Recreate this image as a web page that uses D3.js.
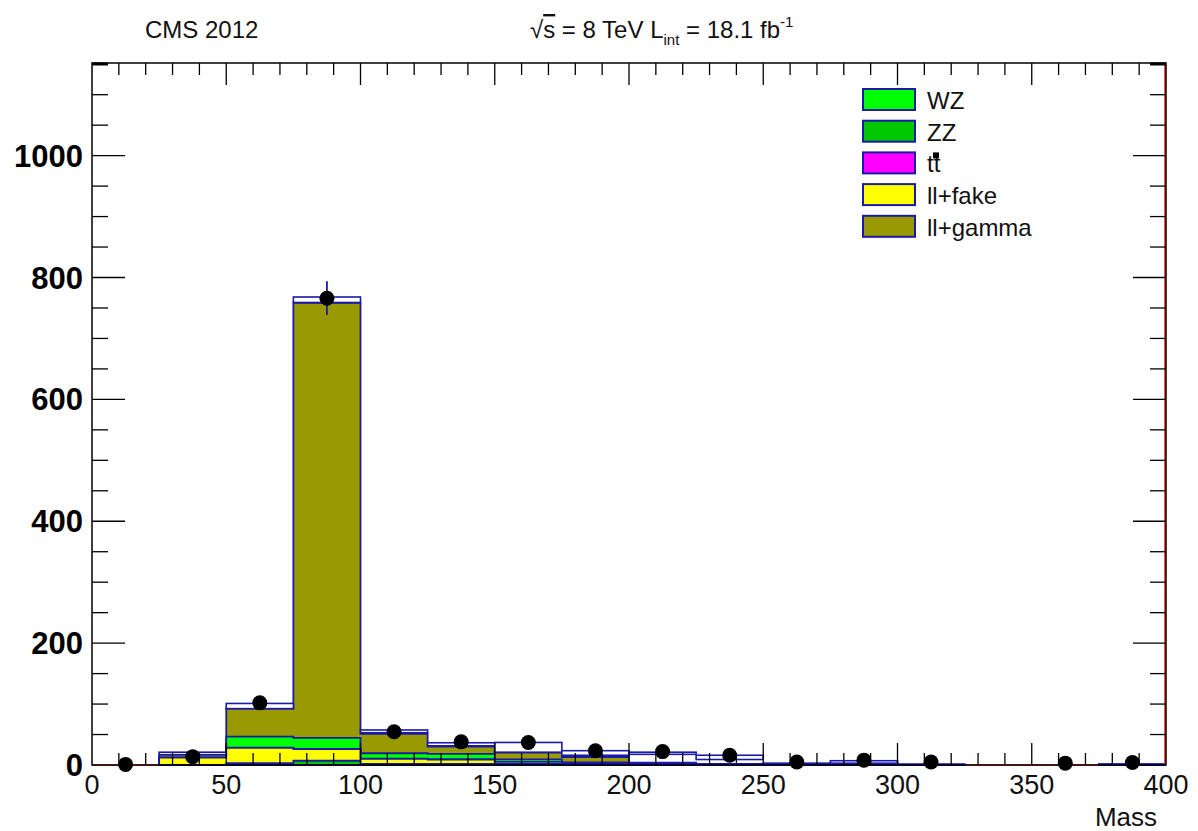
<!DOCTYPE html>
<html>
<head>
<meta charset="utf-8">
<script src="https://cdn.jsdelivr.net/npm/d3@7"></script>
<style>
  html, body { margin: 0; padding: 0; background: #fff; }
  svg { display: block; font-family: "Liberation Sans", Arial, Helvetica, sans-serif; }
</style>
</head>
<body>
<svg id="chart" width="1198" height="831"></svg>
<script>
// ---------------- data ----------------
const binEdges = [0, 25, 50, 75, 100, 125, 150, 175, 200, 225, 250, 275, 300, 325, 350, 375, 400];
const seriesNames = ["WZ", "ZZ", "tt", "ll+fake", "ll+gamma"];
// stack order bottom -> top
const ZZ    = [0, 0,  3,   7,  2,  2,  2, 1,   1, 1, 0.5, 1, 0.5, 0, 0, 0.5];
const fake  = [0, 12, 25, 19,  8,  7,  3, 1,   0, 0, 0,   0, 0,   0, 0, 0];
const tt    = [0, 0, 0.5, 0.5, 0.3, 0.2, 0.2, 0.1, 0, 0, 0, 0, 0, 0, 0, 0];
const WZ    = [0, 0, 18,  18,  9,  9,  4, 2,   2, 1, 0.5, 1, 0,   0, 0, 0.5];
const gamma = [0, 5, 46, 714, 32, 12, 11, 9,   1, 0, 0,   1, 0,   0, 0, 0];
// MC uncertainty boxes
const bandLo = [0, 17, 92.5, 759, 53,   31.5, 21, 16,   17.5, 9,  1, 3, 0, 0, 0, 0];
const bandHi = [0, 21, 101,  768, 57.5, 36.5, 37, 23.5, 21,   16, 3, 7, 0, 0, 0, 0];
// observed data
const dataObs = [1, 13.5, 102, 766, 54.5, 38, 37, 23.5, 22, 16, 5, 8, 5, null, 3, 4];
// red (empty) histogram
const redHist = [0, 0, 0, 0, 0, 0, 0, 0, 0, 0, 0, 0, 0, 0, 0, 0];
const xTicks = [0, 50, 100, 150, 200, 250, 300, 350, 400];
const yTicks = [0, 200, 400, 600, 800, 1000];
const yMax = 1152;

const colors = { "WZ": "#00ff00", "ZZ": "#00c800", "tt": "#ff00ff", "ll+fake": "#ffff00", "ll+gamma": "#999900" };
const navy = "#1a1aa8";

// ---------------- layout ----------------
const svg = d3.select("#chart");
const L = 92, R = 1166, T = 63, B = 765;
const x = d3.scaleLinear().domain([0, 400]).range([L, R]);
const y = d3.scaleLinear().domain([0, yMax]).range([B, T]);

const nb = binEdges.length - 1;
const layers = [
  { name: "ZZ", v: ZZ }, { name: "ll+fake", v: fake }, { name: "tt", v: tt },
  { name: "WZ", v: WZ }, { name: "ll+gamma", v: gamma }
];
// cumulative sums
let cum = new Array(nb).fill(0);
layers.forEach(l => { cum = cum.map((c, i) => c + l.v[i]); l.cum = cum.slice(); });

const plot = svg.append("g");
const clip = svg.append("defs").append("clipPath").attr("id", "pc");
clip.append("rect").attr("x", L).attr("y", T).attr("width", R - L).attr("height", B - T + 3);
plot.attr("clip-path", "url(#pc)");

// step polygon over contiguous nonzero runs
function stepPath(vals) {
  let d = "";
  let i = 0;
  while (i < nb) {
    if (vals[i] > 0) {
      let j = i;
      d += `M${x(binEdges[i])},${y(0)}`;
      while (j < nb && vals[j] > 0) {
        d += `L${x(binEdges[j])},${y(vals[j])}L${x(binEdges[j + 1])},${y(vals[j])}`;
        j++;
      }
      d += `L${x(binEdges[j])},${y(0)}Z`;
      i = j;
    } else i++;
  }
  return d;
}

// red empty histogram line
const redLine = d3.line().x(d => x(d[0])).y(d => y(d[1]));
const redPts = [];
redHist.forEach((v, i) => { redPts.push([binEdges[i], v]); redPts.push([binEdges[i + 1], v]); });
plot.append("path").attr("d", redLine(redPts)).attr("fill", "none").attr("stroke", "#ff5a5a").attr("stroke-width", 2);

// draw stack: top cumulative first, lower ones painted over
layers.slice().reverse().forEach(l => {
  plot.append("path").attr("d", stepPath(l.cum))
    .attr("fill", colors[l.name]).attr("stroke", navy).attr("stroke-width", 1.8)
    .attr("stroke-linejoin", "miter");
});

// uncertainty boxes
plot.selectAll("rect.band").data(d3.range(nb).filter(i => bandHi[i] > bandLo[i]))
  .enter().append("rect")
  .attr("x", i => x(binEdges[i])).attr("width", i => x(binEdges[i + 1]) - x(binEdges[i]))
  .attr("y", i => y(bandHi[i])).attr("height", i => y(bandLo[i]) - y(bandHi[i]))
  .attr("fill", "#fff").attr("stroke", navy).attr("stroke-width", 1.6);

// red line at the right edge
plot.append("line").attr("x1", x(400) - 1).attr("x2", x(400) - 1).attr("y1", y(0)).attr("y2", y(yMax))
  .attr("stroke", "#ff2020").attr("stroke-width", 1.6);

// ---------------- axes / frame ----------------
const ax = svg.append("g").attr("stroke", "#000").attr("stroke-width", 1.3);
ax.append("rect").attr("x", L).attr("y", T).attr("width", R - L).attr("height", B - T)
  .attr("fill", "none").attr("stroke", "#000").attr("stroke-width", 1.5);
// thick corner marks at the top
ax.append("line").attr("x1", L).attr("x2", L + 16).attr("y1", T + 1).attr("y2", T + 1).attr("stroke-width", 3);
ax.append("line").attr("x1", R - 16).attr("x2", R).attr("y1", T + 1).attr("y2", T + 1).attr("stroke-width", 3);

const xMinor = d3.range(0, 401, 10);
xMinor.forEach(v => {
  const major = v % 50 === 0;
  const len = major ? 22 : 12;
  if (v > 0 && v < 400) {
    ax.append("line").attr("x1", x(v)).attr("x2", x(v)).attr("y1", B).attr("y2", B - len);
    ax.append("line").attr("x1", x(v)).attr("x2", x(v)).attr("y1", T).attr("y2", T + len);
  }
});
const yMinor = d3.range(0, yMax, 50);
yMinor.forEach(v => {
  const major = v % 200 === 0;
  const len = major ? 33 : 16;
  if (v > 0) {
    ax.append("line").attr("x1", L).attr("x2", L + len).attr("y1", y(v)).attr("y2", y(v));
    ax.append("line").attr("x1", R).attr("x2", R - len).attr("y1", y(v)).attr("y2", y(v));
  }
});

// tick labels
svg.append("g").selectAll("text").data(xTicks).enter().append("text")
  .attr("x", d => x(d)).attr("y", 794).attr("text-anchor", "middle")
  .attr("font-size", 27).attr("fill", "#111").text(d => d);
svg.append("g").selectAll("text").data(yTicks).enter().append("text")
  .attr("x", 83).attr("y", d => y(d) + 11).attr("text-anchor", "end")
  .attr("font-size", 31).attr("font-weight", "bold").attr("fill", "#000").text(d => d);
svg.append("text").attr("x", 1157).attr("y", 826).attr("text-anchor", "end")
  .attr("font-size", 26).attr("fill", "#111").text("Mass");

// ---------------- data points ----------------
const pts = d3.range(nb).filter(i => dataObs[i] !== null);
const dg = svg.append("g");
pts.forEach(i => {
  const cx = x((binEdges[i] + binEdges[i + 1]) / 2);
  const v = dataObs[i], e = Math.sqrt(v);
  dg.append("line").attr("x1", cx).attr("x2", cx).attr("y1", y(v + e)).attr("y2", y(Math.max(0, v - e)))
    .attr("stroke", navy).attr("stroke-width", 1.8);
  dg.append("circle").attr("cx", cx).attr("cy", y(v)).attr("r", 7.5).attr("fill", "#000");
});

// ---------------- legend ----------------
const legend = svg.append("g");
const legendLabels = ["WZ", "ZZ", "tt", "ll+fake", "ll+gamma"];
legendLabels.forEach((name, k) => {
  const yy = 89 + k * 31.7;
  legend.append("rect").attr("x", 863).attr("y", yy).attr("width", 52).attr("height", 21)
    .attr("fill", colors[name]).attr("stroke", navy).attr("stroke-width", 2);
  legend.append("text").attr("x", 927).attr("y", yy + 20).attr("font-size", 24).attr("fill", "#111").text(name);
  if (name === "tt") {
    legend.append("rect").attr("x", 933).attr("y", yy + 0).attr("width", 6).attr("height", 6).attr("fill", "#000");
  }
});

// ---------------- header ----------------
svg.append("text").attr("x", 145).attr("y", 38).attr("font-size", 24).attr("fill", "#111").text("CMS 2012");
const hdr = svg.append("text").attr("x", 530).attr("y", 38).attr("font-size", 24).attr("fill", "#111");
hdr.append("tspan").text("\u221A");
hdr.append("tspan").attr("text-decoration", "overline").text("s");
hdr.append("tspan").text(" = 8 TeV L");
hdr.append("tspan").attr("font-size", 15).attr("dy", 7).text("int");
hdr.append("tspan").attr("dy", -7).text(" = 18.1 fb");
hdr.append("tspan").attr("font-size", 15).attr("dy", -11).text("-1");
</script>
</body>
</html>
